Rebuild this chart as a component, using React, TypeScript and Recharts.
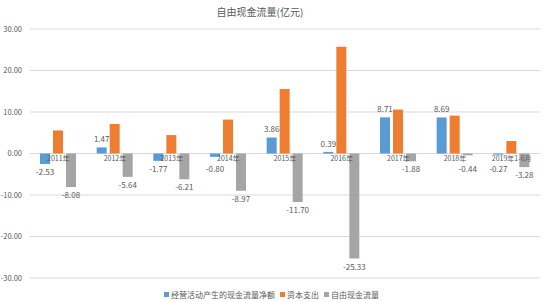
import { BarChart, Bar, XAxis, YAxis, CartesianGrid, Legend } from "recharts";

const years = ["2011年", "2012年", "2013年", "2014年", "2015年", "2016年", "2017年", "2018年", "2019年1-6月"];
const seriesNames = ["经营活动产生的现金流量净额", "资本支出", "自由现金流量"];
const operatingCashFlow = [-2.53, 1.47, -1.77, -0.8, 3.86, 0.39, 8.71, 8.69, -0.27];
const capitalExpenditure = [5.55, 7.11, 4.44, 8.17, 15.56, 25.72, 10.59, 9.13, 3.01];
const freeCashFlow = [-8.08, -5.64, -6.21, -8.97, -11.7, -25.33, -1.88, -0.44, -3.28];
const yTicks = [30, 20, 10, 0, -10, -20, -30];

const data = years.map((year, i) => ({
  year,
  operating: operatingCashFlow[i],
  capex: capitalExpenditure[i],
  free: freeCashFlow[i],
}));

const FONT = '"Noto Sans CJK SC", "Noto Sans", sans-serif';
const TEXT = "#595959";
const PLOT_TOP = 29;
const PLOT_BOTTOM = 275;
const ZERO_Y = (PLOT_TOP + PLOT_BOTTOM) / 2;

// les libellés de catégorie sont posés sur la ligne du zéro, pas en bas
const CategoryTick = (props: any) => {
  const { x, payload } = props;
  return (
    <text x={x} y={ZERO_Y + 9} textAnchor="middle" fontSize={7} fill={TEXT} fontFamily={FONT}>
      {payload.value}
    </text>
  );
};

const ValueLabel = (props: any) => {
  const { x, y, width, height, value } = props;
  if (value === undefined || value === null) return null;
  const top = Math.min(y, y + height);
  const bottom = Math.max(y, y + height);
  // les petites valeurs négatives passent sous le libellé de l'année
  const ty = value >= 0 ? top - 5 : Math.max(bottom + 11, ZERO_Y + 20);
  return (
    <text x={x + width / 2} y={ty} textAnchor="middle" fontSize={8} fill={TEXT} fontFamily={FONT}>
      {Number(value).toFixed(2)}
    </text>
  );
};

const NoLabel = () => null;

const LegendContent = (props: any) => {
  const items = [...(props.payload || [])].sort(
    (a: any, b: any) => seriesNames.indexOf(a.value) - seriesNames.indexOf(b.value)
  );
  return (
    <div style={{ textAlign: "center", fontSize: 8, fontFamily: FONT, color: TEXT, lineHeight: "14px" }}>
      {items.map((entry: any) => (
        <span key={entry.value} style={{ marginRight: 5, whiteSpace: "nowrap" }}>
          <span
            style={{ display: "inline-block", width: 5, height: 5, background: entry.color, marginRight: 2, verticalAlign: "middle" }}
          />
          <span style={{ verticalAlign: "middle" }}>{entry.value}</span>
        </span>
      ))}
    </div>
  );
};

export default function App() {
  return (
    <div style={{ position: "absolute", left: 0, top: 0, width: 550, height: 302, background: "#fff" }}>
      <div
        style={{
          position: "absolute",
          top: 4,
          left: 0,
          width: 520,
          textAlign: "center",
          fontSize: 10,
          color: TEXT,
          fontFamily: FONT,
        }}
      >
        自由现金流量(亿元)
      </div>
      <BarChart
        width={550}
        height={302}
        data={data}
        margin={{ top: PLOT_TOP, right: 10, bottom: 9, left: 0 }}
        barSize={10}
        barGap={3}
      >
        <CartesianGrid vertical={false} stroke="#d9d9d9" />
        <XAxis dataKey="year" height={1} axisLine={false} tickLine={false} tick={<CategoryTick />} interval={0} />
        <YAxis
          width={30}
          domain={[-30, 30]}
          ticks={yTicks}
          axisLine={false}
          tickLine={false}
          tickFormatter={(v: number) => v.toFixed(2)}
          tick={{ fontSize: 7.5, fill: TEXT, fontFamily: FONT }}
        />
        <Legend verticalAlign="bottom" content={<LegendContent />} wrapperStyle={{ top: 287, height: 14, left: 14, width: 520 }} />
        <Bar dataKey="operating" name={seriesNames[0]} fill="#5b9bd5" isAnimationActive={false} label={<ValueLabel />} />
        <Bar dataKey="capex" name={seriesNames[1]} fill="#ed7d31" isAnimationActive={false} label={<NoLabel />} />
        <Bar dataKey="free" name={seriesNames[2]} fill="#a5a5a5" isAnimationActive={false} label={<ValueLabel />} />
      </BarChart>
    </div>
  );
}
